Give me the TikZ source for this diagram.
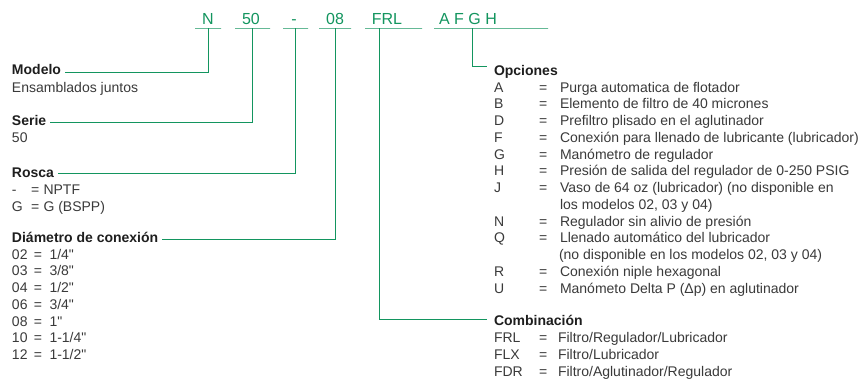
\documentclass[tikz,border=0pt]{standalone}
\usepackage{fontspec}
\setmainfont{Liberation Sans}[Ligatures=TeXOff]
\usetikzlibrary{calc}
\definecolor{gr}{HTML}{13955F}
\definecolor{tx}{HTML}{3A3A3A}
\definecolor{hd}{HTML}{1E1E1E}
\begin{document}
\begin{tikzpicture}[x=1pt,y=-1pt,
  every node/.style={inner sep=0pt, outer sep=0pt, anchor=base west},
  body/.style={font=\fontsize{14}{16}\selectfont, text=tx},
  head/.style={font=\fontsize{14}{16}\selectfont\bfseries, text=hd},
  code/.style={font=\fontsize{16}{18}\selectfont, text=gr, anchor=base},
  uline/.style={draw=gr, line width=0.9pt, minimum height=0pt, minimum width=#1, anchor=center},
  gl/.style={draw=gr, line width=0.9pt}]
\path[use as bounding box, fill=white] (0,0) rectangle (868,380);

% top code
\node[code] (tN) at (208,24) {N};
\node[code] (t50) at (251,24) {50};
\node[code] (tD) at (294,24) {-};
\node[code] (t08) at (335,24) {08};
\node[code] (tFRL) at (387,24) {FRL};
\node[code] (tOpt) at (468,24) {A F G H};
\node[uline=26] (uN) at (208,28) {};
\node[uline=35] (u50) at (252.5,28) {};
\node[uline=25] (uD) at (295.5,28) {};
\node[uline=32] (u08) at (335,28) {};
\node[uline=57] (uFRL) at (393.5,28) {};
\node[uline=114] (uOpt) at (491,28) {};

% left column
\node[head] (modelo) at (12,74) {Modelo};
\node[body] (ens) at (12,92) {Ensamblados juntos};
\node[head] (serie) at (12,125) {Serie};
\node[body] (s50) at (12,142) {50};
\node[head] (rosca) at (12,177) {Rosca};
\node[body] (rc1) at (12,194) {-};
\node[body] (re1) at (31,194) {=};
\node[body] (rv1) at (43.5,194) {NPTF};
\node[body] (rc2) at (12,211) {G};
\node[body] (re2) at (31,211) {=};
\node[body] (rv2) at (43.5,211) {G (BSPP)};
\node[head] (diam) at (12,242) {Diámetro de conexión};
\foreach \i/\c/\t in {0/02/{1/4"}, 1/03/{3/8"}, 2/04/{1/2"}, 3/06/{3/4"}, 4/08/{1"}, 5/10/{1-1/4"}, 6/12/{1-1/2"}} {
  \node[body] (dc\i) at (12,259+16.75*\i) {\c};
  \node[body] (de\i) at (34,259+16.75*\i) {=};
  \node[body] (dv\i) at (49.5,259+16.75*\i) {\t};
}

\draw[gl] (uN.center) |- ($(modelo.base east)+(4,-2)$);
\draw[gl] (u50.center) |- ($(serie.base east)+(4,-3)$);
\draw[gl] (uD.center) |- ($(rosca.base east)+(4,-4)$);
\draw[gl] (u08.center) |- ($(diam.base east)+(4,-3)$);

% right column
\node[head] (opc) at (494,75) {Opciones};
\foreach \i/\c/\t in {0/A/{Purga automatica de flotador}, 1/B/{Elemento de filtro de 40 micrones}, 2/D/{Prefiltro plisado en el aglutinador}, 3/F/{Conexión para llenado de lubricante (lubricador)}, 4/G/{Manómetro de regulador}, 5/H/{Presión de salida del regulador de 0-250 PSIG}, 6/J/{Vaso de 64 oz (lubricador) (no disponible en}, 8/N/{Regulador sin alivio de presión}, 9/Q/{Llenado automático del lubricador}, 11/R/{Conexión niple hexagonal}, 12/U/{Manómeto Delta P (Δp) en aglutinador}} {
  \node[body] (oc\i) at (494,92+16.75*\i) {\c};
  \node[body] (oe\i) at (539,92+16.75*\i) {=};
  \node[body] (ov\i) at (560,92+16.75*\i) {\t};
}
\node[body] (ov7) at (560,92+16.75*7) {los modelos 02, 03 y 04)};
\node[body] (ov10) at (559,92+16.75*10) {(no disponible en los modelos 02, 03 y 04)};

\node[head] (comb) at (494,325) {Combinación};
\foreach \i/\c/\t in {0/FRL/{Filtro/Regulador/Lubricador}, 1/FLX/{Filtro/Lubricador}, 2/FDR/{Filtro/Aglutinador/Regulador}} {
  \node[body] (cc\i) at (494,342+17*\i) {\c};
  \node[body] (ce\i) at (539,342+17*\i) {=};
  \node[body] (cv\i) at (558,342+17*\i) {\t};
}

\draw[gl] ($(uOpt.west)+(38,0)$) |- ($(opc.base west)+(-7,-9)$);
\draw[gl] ($(uFRL.west)+(14,0)$) |- ($(comb.base west)+(-7,-5.5)$);
\end{tikzpicture}
\end{document}
